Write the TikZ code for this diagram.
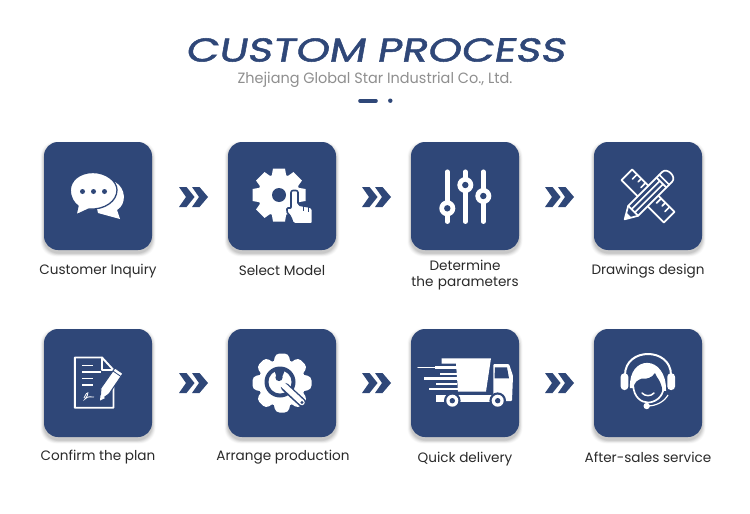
\documentclass[tikz,border=0pt]{standalone}
\usepackage{fontspec}
\setmainfont{Poppins}
\newfontfamily\titlefont[FakeStretch=1.29,FakeSlant=0.18,FakeBold=1.6]{Poppins}
\newfontfamily\subfont[FakeStretch=0.97]{Poppins}
\usetikzlibrary{shapes.geometric}
\definecolor{navy}{HTML}{2F4778}
\definecolor{subgray}{HTML}{8F8F8F}
\definecolor{labelink}{HTML}{2A2A2A}
\tikzset{
  x=1pt,y=-1pt,
  tile/.style={fill=navy,rounded corners=14pt},
  caption/.style={text=labelink,font=\fontsize{13.6}{16}\selectfont,align=center,inner sep=0pt},
  whiteline/.style={draw=white,line width=1.7pt,line cap=round,line join=round},
  chevrons/.pic={
    \fill[navy] (-14.5,-10)--(-7,-10)--(1,0)--(-7,10)--(-14.5,10)--(-7.5,0)--cycle;
    \fill[navy] (-1.5,-10)--(6,-10)--(14.5,0)--(6,10)--(-1.5,10)--(5.5,0)--cycle;
  },
  chaticon/.pic={
    \fill[white] (17,-14) .. controls (28,-8) and (29,8) .. (19,14) -- (22,23) -- (0,17) -- (-2,8) -- cycle;
    \fill[white,draw=navy,line width=1.3pt] (-5,-23.5) .. controls (-19,-23.5) and (-27.7,-15) .. (-27.7,-6)
      .. controls (-27.7,2) and (-24,7) .. (-20,10) -- (-22,19) -- (-9,13)
      .. controls (7,14) and (19,5) .. (19,-6) .. controls (19,-15) and (8,-23.5) .. (-5,-23.5) -- cycle;
    \foreach \cx in {-15.5,-4.5,6.5} \fill[navy] (\cx,-4.5) circle (2.5);
  },
  gearicon/.pic={
    \begin{scope}[shift={(-3,-1)}]
      \fill[white] (0,0) circle (21);
      \foreach \ang in {0,45,...,315}
        \fill[white,rotate=\ang] (-6,-26.5) -- (6,-26.5) -- (8,-15) -- (-8,-15) -- cycle;
      \fill[navy] (0,0) circle (7);
    \end{scope}
    \fill[white,draw=navy,line width=1.6pt,line join=round,rounded corners=2pt]
      (9,-5.5) -- (16,-5.5) -- (16,9) -- (30.5,11.5) -- (30.5,28) -- (11,28) -- (9,21) -- (4,15) -- (6,11) -- (9,13) -- cycle;
    \draw[navy,line width=.8pt] (21,10) -- (21,15) (26,11) -- (26,16);
  },
  slidericon/.pic={
    \draw[white,line width=4.5pt,line cap=round] (-17.7,-24.3) -- (-17.7,25.7) (0.3,-24.3) -- (0.3,25.7) (18.3,-24.3) -- (18.3,25.7);
    \foreach \kx/\ky in {-17.7/12.3,0.3/-11,18.3/0} {
      \fill[white] (\kx,\ky) circle (8);
      \fill[navy] (\kx,\ky) circle (3.2);
    }
  },
  drawicon/.pic={
    \begin{scope}[rotate=-45]
      \draw[whiteline] (-30,-7.5) rectangle (30,7.5);
      \draw[whiteline] (-23,-7.5) -- (-23,-1) (-17,-7.5) -- (-17,-3) (-11,-7.5) -- (-11,-1)
        (11,-7.5) -- (11,-1) (17,-7.5) -- (17,-3) (23,-7.5) -- (23,-1);
    \end{scope}
    \begin{scope}[rotate=45]
      \draw[whiteline,fill=navy] (-33,0) -- (-21,-7) -- (27,-7) .. controls (34,-7) and (34,7) .. (27,7) -- (-21,7) -- cycle;
      \draw[whiteline] (-21,-7) -- (-21,7) (-21,-2.3) -- (19,-2.3) (-21,2.3) -- (19,2.3) (19,-7) -- (19,7) (23,-7) -- (23,7);
      \fill[white] (-33,0) -- (-27,-3.5) -- (-27,3.5) -- cycle;
    \end{scope}
  },
  planicon/.pic={
    \draw[whiteline,line width=1.9pt] (-23.2,-25.5) -- (4,-25.5) -- (15.5,-13) -- (15.5,24.7) -- (-23.2,24.7) -- cycle;
    \draw[whiteline,line width=1.9pt] (4,-25.5) -- (4,-13) -- (15.5,-13);
    \draw[whiteline,line width=1.9pt,line cap=butt]
      (-16,-17.5) -- (-5,-17.5) (-16,-11) -- (3,-11) (-16,-4.5) -- (-5,-4.5) (-16,2) -- (-5,2);
    \draw[white,line width=.8pt] (-14,15) .. controls (-10,6) and (-8,10) .. (-13,16) .. controls (-10,13) and (-8,14) .. (-4,14);
    \draw[navy,line width=5pt] (15.5,-11) -- (15.5,4);
    \fill[white,draw=navy,line width=1pt,line join=round]
      (2,17.5) -- (3,5) -- (17,-15) -- (25,-9.5) -- (11,11) -- cycle;
    \draw[navy,line width=.8pt] (15,-12) -- (23,-6.5);
    \fill[white] (2,17.5) -- (2.6,12) -- (7,15) -- cycle;
  },
  wrenchicon/.pic={
    \fill[white] (0,0) circle (23.5);
    \foreach \ang in {0,45,...,315}
      \fill[white,rotate=\ang,rounded corners=4pt] (-6.5,-29.5) -- (6.5,-29.5) -- (9.5,-15) -- (-9.5,-15) -- cycle;
    \fill[navy] (-2,-1) circle (15.5);
    \fill[white] (-2,-1) circle (11.5);
    \draw[navy,line width=8.5pt,line cap=round] (3,4) -- (20,19.5);
    \draw[white,line width=5.5pt,line cap=round] (-2,-1) -- (20,19.5);
    \fill[navy] (20,19.5) circle (1.6);
    \fill[navy] (-3,-5.5) circle (3.6);
    \fill[navy] (-5.5,-6) -- (-8,-14) -- (3,-13) -- (-0.5,-4.5) -- cycle;
  },
  truckicon/.pic={
    \fill[white] (-23.3,-24.7) -- (26,-24.7) -- (21,8.5) -- (-7,8.5) -- (-9,-19.5) -- (-23.3,-19.5) -- cycle;
    \draw[white,line width=2.8pt,line cap=butt]
      (-30,-15.5) -- (-8,-15.5) (-25,-9) -- (-8,-9) (-41,-4.5) -- (-8,-4.5)
      (-29,1) -- (-8,1) (-36,6) -- (-7,6);
    \draw[white,line width=1.5pt,line cap=round] (-47,-15.5) -- (-30,-15.5);
    \fill[white,rounded corners=1pt] (28.3,-19) -- (44,-19) -- (48,-7) -- (47,18) -- (24,18) -- (24,12) -- (28.3,12) -- cycle;
    \fill[navy] (30,-15.7) -- (42,-15.7) -- (44,-4.7) -- (29.5,-4.7) -- cycle;
    \fill[white] (-29.5,12) -- (30,12) -- (30,18.7) -- (-29.5,18.7) -- cycle;
    \foreach \wx in {-12.7,32.7} {
      \fill[navy] (\wx,17.7) circle (8.3);
      \fill[white] (\wx,17.7) circle (6);
      \fill[navy] (\wx,17.7) circle (2.7);
    }
  },
  agenticon/.pic={
    \draw[white,line width=2pt] (-23,-8) .. controls (-23,-36) and (23,-36) .. (23,-8);
    \fill[white,rounded corners=3.5pt] (-27.3,-9.7) rectangle (-19.7,7);
    \fill[white,rounded corners=3.5pt] (19.3,-9.7) rectangle (27,7);
    \fill[white] (-18,5) .. controls (-20,-29) and (19,-29) .. (18,8) -- cycle;
    \fill[navy] (-14,7) .. controls (-15,-2) and (-9,-3) .. (-6,-4.5) .. controls (-2,-3.5) and (4,-5) .. (7,-10) .. controls (8.5,-5) and (13,-3) .. (14.5,8) -- cycle;
    \draw[white,line width=1.7pt] (-14.8,3) .. controls (-14,14) and (-7,19.5) .. (0,19.5) .. controls (7,19.5) and (15,14) .. (15.5,5);
    \draw[white,line width=1.5pt,line cap=round] (-6,10) .. controls (-3,13.5) and (3,13.5) .. (6,10);
    \draw[white,line width=1.2pt] (-1,23) .. controls (8,23) and (16,19) .. (20,12);
    \fill[white] (-1.3,23) circle (3.2);
  }
}
\begin{document}
\begin{tikzpicture}
\useasboundingbox (0,0) rectangle (750,514);
\fill[white] (0,0) rectangle (750,514);
\node[inner sep=0pt,text=navy,font=\titlefont\fontsize{33}{36}\selectfont] (title) at (375,50) {CUSTOM PROCESS};
\node[inner sep=0pt,text=subgray,font=\subfont\fontsize{14.9}{18}\selectfont] (subtitle) at (375,80) {Zhejiang Global Star Industrial Co., Ltd.};
\draw[navy,line width=3.6pt,line cap=round] (360,100.7) -- (376,100.7);
\fill[navy] (390.3,100.7) circle (2.2);
\foreach \tx in {98,282,465,648} \foreach \ty in {196,383} {
  \foreach \off/\op in {3.5/.02,3/.02,2.5/.03,2/.03,1.5/.04,1/.04,.5/.05}
    \fill[black,opacity=\op,rounded corners=15pt] (\tx-54-\off,\ty-54+3-\off) rectangle (\tx+54+\off,\ty+54+3+\off);
  \fill[tile] (\tx-54,\ty-54) rectangle (\tx+54,\ty+54);
}
\pic at (98,196) {chaticon};
\pic at (282,196) {gearicon};
\pic at (465,196) {slidericon};
\pic at (648,196) {drawicon};
\pic at (98,383) {planicon};
\pic at (282,383) {wrenchicon};
\pic at (465,383) {truckicon};
\pic at (648,383) {agenticon};
\foreach \cx in {193.5,376.5,559.5} \foreach \cy in {197,383} \pic at (\cx,\cy) {chevrons};
\node[caption] (c1) at (98,271) {Customer Inquiry};
\node[caption] (c2) at (282,271) {Select Model};
\node[caption,text width=120pt] (c3) at (465,275) {Determine\\the parameters};
\node[caption] (c4) at (648,271) {Drawings design};
\node[caption] (c5) at (98,457) {Confirm the plan};
\node[caption] (c6) at (283,457) {Arrange production};
\node[caption] (c7) at (465,459) {Quick delivery};
\node[caption] (c8) at (648,457) {After-sales service};
\end{tikzpicture}
\end{document}
